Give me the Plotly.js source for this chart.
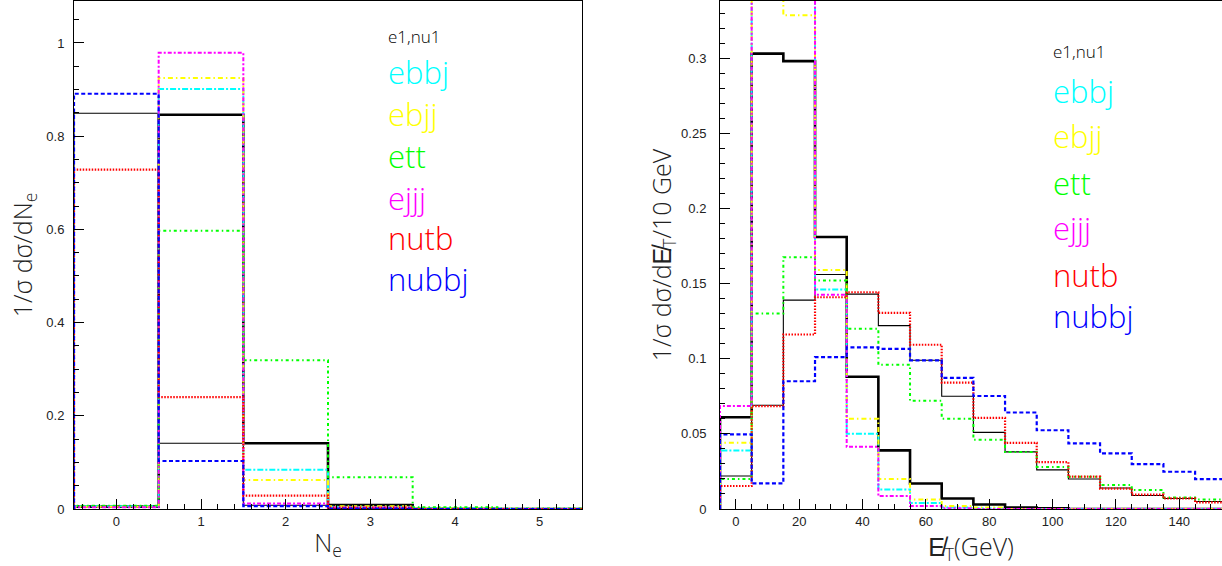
<!DOCTYPE html>
<html>
<head>
<meta charset="utf-8">
<script src="https://cdn.plot.ly/plotly-3.0.1.min.js"></script>
<style>html,body{margin:0;padding:0;background:#fff;}#chart{width:1222px;height:566px;}</style>
</head>
<body>
<div id="chart"></div>
<script>
// ---------- Left panel: number of electrons N_e (bin centres) ----------
const neBins = [0, 1, 2, 3, 4, 5];
const ne_e1    = [0.005, 0.846, 0.141, 0.0085, 0.0005, 0];
const ne_nu1   = [0.849, 0.141, 0.008, 0.001, 0, 0];
const ne_ebbj  = [0.006, 0.901, 0.084, 0.005, 0.001, 0];
const ne_ebjj  = [0.005, 0.925, 0.062, 0.006, 0.001, 0];
const ne_ett   = [0.007, 0.597, 0.319, 0.068, 0.004, 0.001];
const ne_ejjj  = [0.004, 0.979, 0.012, 0.003, 0, 0];
const ne_nutb  = [0.728, 0.240, 0.0286, 0.003, 0, 0];
const ne_nubbj = [0.891, 0.103, 0.006, 0.001, 0, 0];

// ---------- Right panel: missing ET (bin centres, GeV) ----------
const metBins = [0, 10, 20, 30, 40, 50, 60, 70, 80, 90, 100, 110, 120, 130, 140, 150];
const met_e1    = [0.061, 0.303, 0.298, 0.181, 0.088, 0.039, 0.017, 0.007, 0.003, 0.001, 0.0005, 0, 0, 0, 0, 0];
const met_nu1   = [0.022, 0.069, 0.139, 0.156, 0.143, 0.122, 0.099, 0.075, 0.051, 0.038, 0.026, 0.020, 0.014, 0.009, 0.007, 0.005];
const met_ebbj  = [0.039, 0.370, 0.375, 0.146, 0.050, 0.013, 0.004, 0.001, 0.0005, 0, 0, 0, 0, 0, 0, 0];
const met_ebjj  = [0.044, 0.378, 0.3285, 0.159, 0.060, 0.020, 0.0064, 0.002, 0.001, 0, 0, 0, 0, 0, 0, 0];
const met_ett   = [0.020, 0.130, 0.1675, 0.152, 0.120, 0.096, 0.072, 0.060, 0.046, 0.038, 0.028, 0.0215, 0.016, 0.0126, 0.0077, 0.0064];
const met_ejjj  = [0.0686, 0.360, 0.377, 0.1425, 0.0414, 0.0086, 0.002, 0.0005, 0, 0, 0, 0, 0, 0, 0, 0];
const met_nutb  = [0.0153, 0.0684, 0.1161, 0.1409, 0.1442, 0.1305, 0.1093, 0.0841, 0.0606, 0.044, 0.0312, 0.0215, 0.0135, 0.0096, 0.0071, 0.0044];
const met_nubbj = [0.0496, 0.017, 0.085, 0.1011, 0.1075, 0.1066, 0.0989, 0.0872, 0.0752, 0.0642, 0.0524, 0.0436, 0.037, 0.0299, 0.0248, 0.0199];

const legendNames = ["e1,nu1", "ebbj", "ebjj", "ett", "ejjj", "nutb", "nubbj"];
const legendColors = ["#000000", "#00ffff", "#ffff00", "#00ff00", "#ff00ff", "#ff0000", "#0000ff"];

// styles
const styles = {
  e1:    {color: "#000000", width: 2.6, dash: "solid"},
  nu1:   {color: "#000000", width: 1.1, dash: "solid"},
  ebbj:  {color: "#00ffff", width: 2, dash: "6px,2px,2px,2px"},
  ebjj:  {color: "#ffff00", width: 2, dash: "5px,3px,1.5px,3px"},
  ett:   {color: "#00ff00", width: 2, dash: "3px,3px,1.5px,3px"},
  ejjj:  {color: "#ff00ff", width: 2, dash: "4px,2px,2px,2px"},
  nutb:  {color: "#ff0000", width: 2.2, dash: "1.5px,1.5px"},
  nubbj: {color: "#0000ff", width: 2.2, dash: "4px,2.5px"}
};

// Build ROOT-like histogram outline from bin centres and contents
function histTrace(centres, vals, width, st, xa, ya) {
  const x = [], y = [];
  const half = width / 2;
  x.push(centres[0] - half); y.push(0);
  for (let i = 0; i < centres.length; i++) {
    x.push(centres[i] - half); y.push(vals[i]);
  }
  x.push(centres[centres.length - 1] + half); y.push(vals[vals.length - 1]);
  x.push(centres[centres.length - 1] + half); y.push(0);
  return {
    type: "scatter", mode: "lines", x: x, y: y, xaxis: xa, yaxis: ya,
    line: {shape: "hv", color: st.color, width: st.width, dash: st.dash},
    hoverinfo: "skip", showlegend: false
  };
}

const order = ["e1", "nu1", "ebbj", "ebjj", "ett", "ejjj", "nutb", "nubbj"];
const leftData = {e1: ne_e1, nu1: ne_nu1, ebbj: ne_ebbj, ebjj: ne_ebjj, ett: ne_ett, ejjj: ne_ejjj, nutb: ne_nutb, nubbj: ne_nubbj};
const rightData = {e1: met_e1, nu1: met_nu1, ebbj: met_ebbj, ebjj: met_ebjj, ett: met_ett, ejjj: met_ejjj, nutb: met_nutb, nubbj: met_nubbj};

const traces = [];
order.forEach(k => traces.push(histTrace(neBins, leftData[k], 1, styles[k], "x", "y")));
order.forEach(k => traces.push(histTrace(metBins, rightData[k], 10, styles[k], "x2", "y2")));

const W = 1222, H = 566;
const fontFam = "Liberation Sans, Arial, Helvetica, sans-serif";
const lightFam = "Open Sans, Liberation Sans, Arial, sans-serif";
const tickFont = {family: fontFam, size: 13, color: "#222"};
const titleFont = {family: lightFam, size: 25, color: "#222", weight: 300};
const slashE = '<span style="font-family:Liberation Sans">E\u0338</span>';

function axisCommon(extra) {
  return Object.assign({
    showgrid: false, zeroline: false, showline: true, linecolor: "#000", linewidth: 1,
    ticks: "inside", ticklen: 10, tickcolor: "#000", tickwidth: 1,
    tickfont: tickFont, fixedrange: true
  }, extra);
}

const yBot = (H - 509) / H, yTop = (H - 1) / H;

// legend-like coloured labels
const annotations = [];
const leftLegY = [36, 72, 114, 156, 198, 238, 279];
const rightLegY = [52, 91, 136, 183, 228, 275, 316];
legendNames.forEach((name, i) => {
  const sz = i === 0 ? 17 : 31;
  annotations.push({xref: "paper", yref: "paper", x: 386 / W, y: 1 - leftLegY[i] / H,
    xanchor: "left", yanchor: "middle", showarrow: false, text: name,
    font: {family: lightFam, size: sz, color: legendColors[i], weight: 300}});
  annotations.push({xref: "paper", yref: "paper", x: 1051 / W, y: 1 - rightLegY[i] / H,
    xanchor: "left", yanchor: "middle", showarrow: false, text: name,
    font: {family: lightFam, size: sz, color: legendColors[i], weight: 300}});
});

const layout = {
  width: W, height: H,
  margin: {l: 0, r: 0, t: 0, b: 0},
  paper_bgcolor: "#fff", plot_bgcolor: "#fff",
  showlegend: false,
  xaxis: axisCommon({domain: [74 / W, 582 / W], range: [-0.5, 5.5], dtick: 1, tick0: 0, mirror: true,
    minor: {dtick: 0.2, tick0: 0, ticks: "inside", ticklen: 5, tickcolor: "#000"},
    title: {text: "N<sub>e</sub>", font: titleFont, standoff: 6}, anchor: "y"}),
  yaxis: axisCommon({domain: [yBot, yTop], range: [0, 1.09], dtick: 0.2, tick0: 0, mirror: true,
    ticklabelstandoff: 6,
    minor: {dtick: 0.05, tick0: 0, ticks: "inside", ticklen: 5, tickcolor: "#000"},
    title: {text: "1/σ dσ/dN<sub>e</sub>", font: titleFont, standoff: 6}, anchor: "x"}),
  xaxis2: axisCommon({domain: [720 / W, 1], range: [-5, 153.5], dtick: 20, tick0: 0, mirror: true,
    minor: {dtick: 5, tick0: 0, ticks: "inside", ticklen: 5, tickcolor: "#000"},
    title: {text: slashE + "<sub>T</sub>(GeV)", font: titleFont, standoff: 6}, anchor: "y2"}),
  yaxis2: axisCommon({domain: [yBot, yTop], range: [0, 0.338], dtick: 0.05, tick0: 0, mirror: false,
    ticklabelstandoff: 10,
    minor: {dtick: 0.01, tick0: 0, ticks: "inside", ticklen: 5, tickcolor: "#000"},
    title: {text: "1/σ dσ/d" + slashE + "<sub>T</sub>/10 GeV", font: titleFont, standoff: 0}, anchor: "x2"}),
  annotations: annotations
};

Plotly.newPlot("chart", traces, layout, {staticPlot: true, displayModeBar: false});
</script>
</body>
</html>
